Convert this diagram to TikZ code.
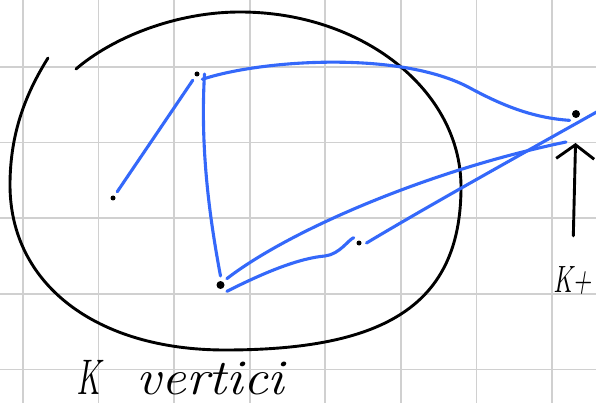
\documentclass[tikz,border=0pt]{standalone}
\usepackage{fontspec}
\usepackage{tikz}
\usetikzlibrary{arrows.meta, positioning}

\definecolor{penblue}{RGB}{52,104,250}
\definecolor{gridgray}{RGB}{208,208,208}

\begin{document}
\begin{tikzpicture}[
  x=1pt, y=-1pt,
  gridline/.style={draw=gridgray, line width=1.8pt},
  ink/.style={draw=black, line width=2.9pt, line cap=round, line join=round},
  edge/.style={draw=penblue, line width=3.1pt, line cap=round},
  dot/.style={circle, fill=black, inner sep=0pt, minimum size=7pt, outer sep=5pt},
  hand/.style={inner sep=0pt, font=\itshape}
]
  \useasboundingbox (0,0) rectangle (596,403);
  \clip (0,0) rectangle (596,403);
  \fill[white] (0,0) rectangle (596,403);

  \foreach \gx in {0,...,7}
    \draw[gridline] ({22.8+75.6*\gx},0) -- ++(0,403);
  \foreach \gy in {0,...,4}
    \draw[gridline] (0,{67+75.6*\gy}) -- ++(596,0);

  \draw[ink] (76,69) .. controls (112,38) and (175,12) .. (240,12)
    .. controls (362,12) and (461,90) .. (461,187)
    .. controls (461,305) and (385,350) .. (225,350)
    .. controls (96,350) and (10,284) .. (10,185)
    .. controls (10,130) and (28,90) .. (48,58);

  \node[dot, minimum size=5pt] (vtop) at (197,74) {};
  \node[dot, minimum size=5pt] (vleft) at (113,198) {};
  \node[dot, minimum size=8pt] (vbot) at (220.5,285) {};
  \node[dot, minimum size=5pt] (vmid) at (359,243) {};
  \node[dot, minimum size=8pt] (vnew) at (576,114) {};
  \coordinate (tipb) at (566,142);
  \coordinate (tipm) at (602,109);

  \draw[edge] (vleft) -- (vtop);
  \draw[edge] (vtop.east) .. controls (200,150) and (210,220) .. (vbot.north);
  \draw[edge] (vtop.south east) .. controls (260,60) and (400,50) .. (470,88)
    .. controls (505,107) and (535,118) .. (vnew.south west);
  \draw[edge] (vbot.north east) .. controls (290,230) and (430,170) .. (tipb);
  \draw[edge] (vbot.south east) .. controls (265,272) and (300,258) .. (325,256)
    .. controls (340,254) and (348,240) .. (vmid.north west);
  \draw[edge] (vmid.east) .. controls (430,205) and (520,155) .. (tipm);

  \node[hand, font=\itshape\fontsize{50}{56}\selectfont, anchor=base west] (klabel) at (76,394)
    {\scalebox{0.65}[1]{K}\hspace{36pt}\scalebox{1.1}[1]{vertici}};
  \node[hand, font=\itshape\fontsize{38}{44}\selectfont, anchor=base west] (kp) at (553,292)
    {\scalebox{0.68}[1]{K+}};

  \draw[ink, -{Straight Barb[length=14pt, width=38pt]}, shorten <=30pt, shorten >=20pt] (kp.north) -- (vnew.south);
\end{tikzpicture}
\end{document}
